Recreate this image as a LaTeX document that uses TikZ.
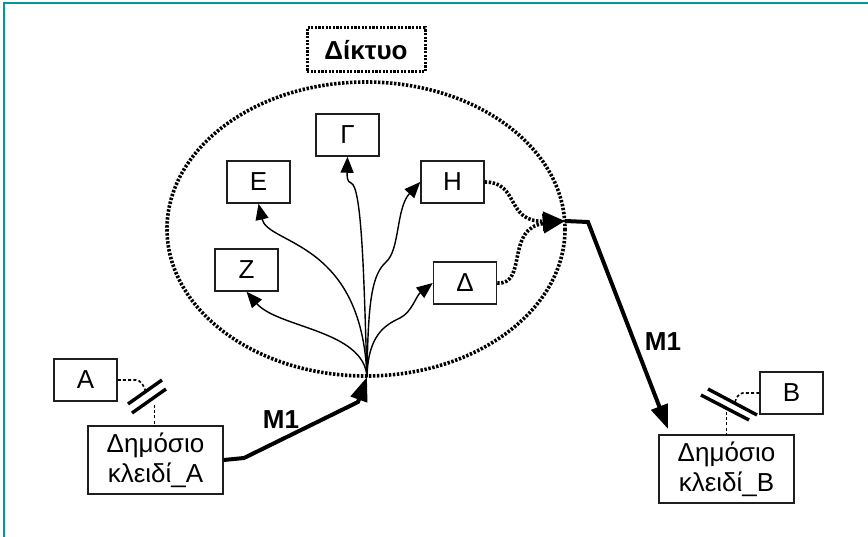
\documentclass[tikz,border=0pt]{standalone}
\usepackage{fontspec}
\setmainfont{Liberation Sans}
\usetikzlibrary{arrows.meta}
\definecolor{frameteal}{RGB}{0,153,153}
\definecolor{boxgray}{RGB}{30,30,30}
\tikzset{
  box/.style={draw=boxgray, line width=1.5pt, minimum width=63pt, minimum height=42pt, inner sep=0pt, font=\fontsize{26}{30}\selectfont},
  keybox/.style={draw=boxgray, line width=1.5pt, minimum width=135pt, minimum height=68pt, inner sep=0pt, align=center, font=\fontsize{26}{30}\selectfont},
  thinarrow/.style={line width=1.4pt, -{Triangle[length=16pt, width=13pt]}},
  dotline/.style={line width=3.6pt, dash pattern=on 2.4pt off 1.6pt},
  dotarrow/.style={dotline, -{Triangle[length=22pt, width=19pt]}},
  thickarrow/.style={line width=4pt, -{Triangle[length=24pt, width=17pt]}},
  keydash/.style={line width=1.6pt, dash pattern=on 3pt off 2.2pt},
  keybar/.style={line width=3.4pt},
  msglabel/.style={font=\bfseries\fontsize{26}{30}\selectfont}
}
\begin{document}
\begin{tikzpicture}[x=1pt,y=-1pt]
\useasboundingbox (0,0) rectangle (868,537);
% frame
\draw[frameteal, line width=1.5pt] (4,537) -- (4,3) -- (868,3);

% network
\node[draw, line width=3pt, dash pattern=on 2.2pt off 1.4pt, minimum width=118pt, minimum height=44pt, inner sep=0pt, font=\bfseries\fontsize{26}{30}\selectfont] (net) at (366,50) {Δίκτυο};
\draw[dotline] (366,229) ellipse [x radius=199, y radius=147];

\node[box] (G) at (347.5,135) {Γ};
\node[box] (E) at (258.5,182) {Ε};
\node[box] (H) at (452.5,182) {Η};
\node[box] (D) at (465,283) {Δ};
\node[box] (Z) at (246.5,270) {Ζ};
\node[box] (A) at (85.5,380) {Α};
\node[box] (B) at (791.5,393) {Β};
\node[keybox] (KA) at (155.5,460) {Δημόσιο\\κλειδί\_Α};
\node[keybox] (KB) at (726.5,469) {Δημόσιο\\κλειδί\_Β};

\coordinate (O) at (367,377);
\coordinate (J) at (565,221);

% fan
\draw[thinarrow] (O) .. controls (364,330) and (278,328) .. (Z.south);
\draw[thinarrow] (O) .. controls (362,240) and (268,245) .. (E.south);
\draw[thinarrow] (O) .. controls (364,280) and (362,186) .. (351,183) .. controls (347,182) and (347,176) .. (G.south);
\draw[thinarrow] (O) .. controls (368,300) and (372,275) .. (386,262) .. controls (400,250) and (396,208) .. (H.west);
\draw[thinarrow] (O) .. controls (368,335) and (385,325) .. (400,318) .. controls (412,312) and (416,296) .. (D.west);

% dotted joins
\draw[dotarrow] (H.east) .. controls (520,182) and (505,222) .. (J);
\draw[dotarrow] (D.east) .. controls (528,285) and (505,228) .. (J);

% messages
\coordinate (a1) at (244,458);
\coordinate (a2) at (358,402);
\draw[thickarrow] (KA.east) -- (a1) -- (a2) -- (O);
\node[msglabel] (m1a) at (281,420) {M1};
\coordinate (b1) at (588,222);
\draw[thickarrow] (J) -- (b1) -- (668,429);
\node[msglabel] (m1b) at (663,342) {M1};

% key symbol A
\coordinate (sa) at (146,392);
\draw[keybar] (128,404) -- (162,380);
\draw[keybar] (132,413) -- (166,389);
\draw[keydash] (A.east) -- (136,380) .. controls (141,380) and (144,386) .. (sa);
\draw[keydash] (154.5,405) -- (154.5,426);

% key symbol B
\coordinate (sb) at (735,402);
\draw[keybar] (708,389) -- (757,415);
\draw[keybar] (701,395) -- (749,420);
\draw[keydash] (B.west) -- (743,393) .. controls (739,393) and (736,398) .. (sb);
\draw[keydash] (726.5,412) -- (726.5,435);
\end{tikzpicture}
\end{document}
